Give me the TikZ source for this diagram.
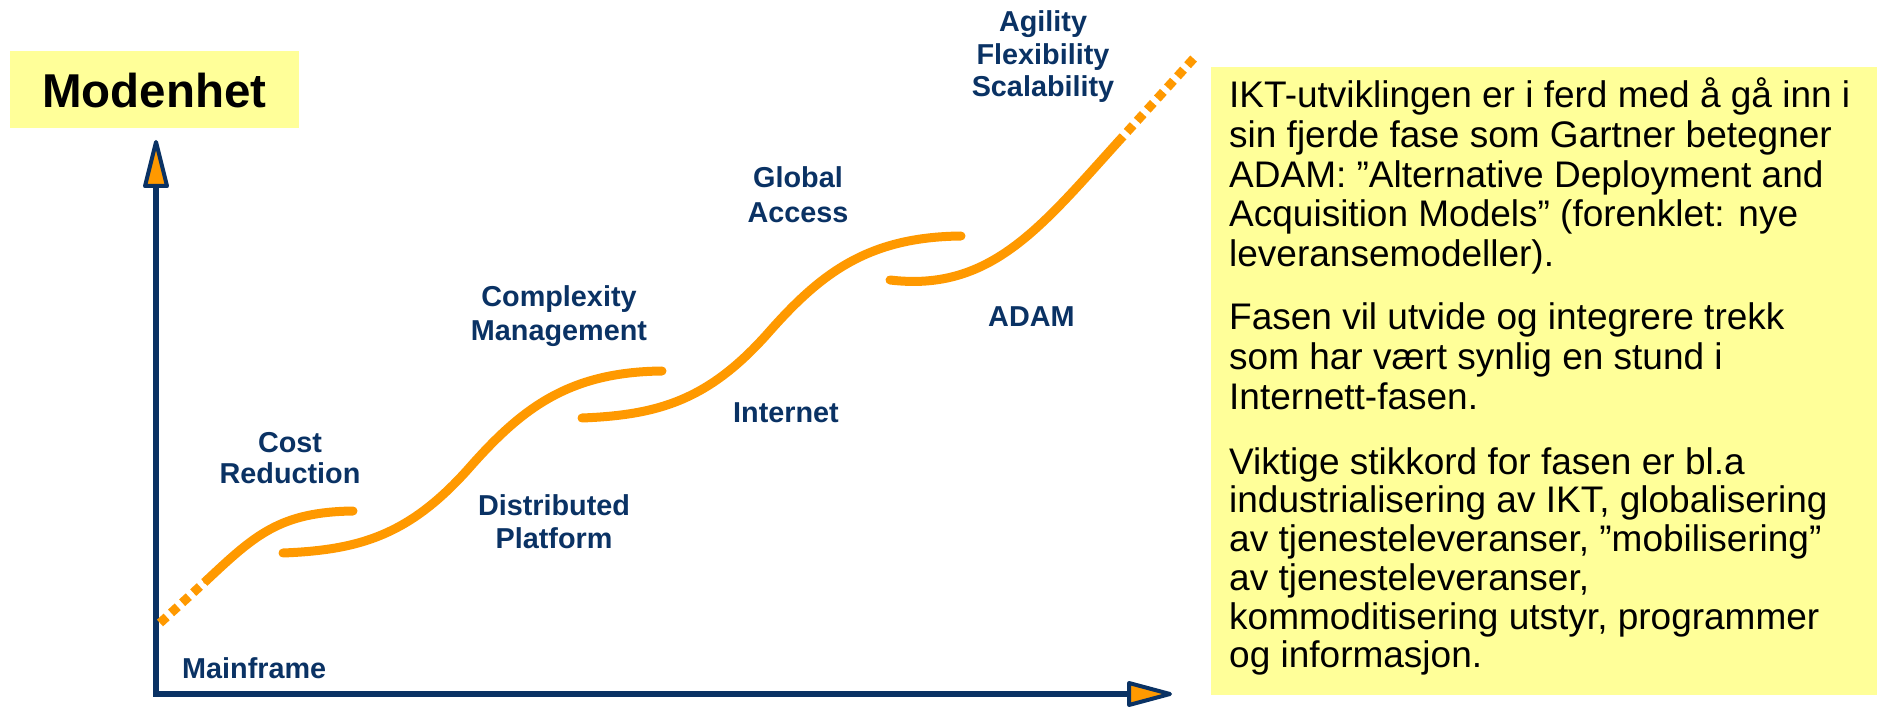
\documentclass[tikz,border=0pt]{standalone}
\usepackage{fontspec}
\setmainfont{Liberation Sans}
\definecolor{navy}{RGB}{10,50,100}
\definecolor{orng}{RGB}{255,153,0}
\definecolor{paleyellow}{RGB}{255,255,153}
\newcommand{\clines}[2]{\vtop{\baselineskip=#1\halign{\hfil##\hfil\cr#2\crcr}}}
\newcommand{\llines}[2]{\vtop{\baselineskip=#1\halign{##\hfil\cr#2\crcr}}}
\tikzset{
  lbl/.style={font=\fontsize{28.8}{34}\selectfont\bfseries, text=navy, inner sep=0pt, anchor=base},
  body/.style={font=\fontsize{37}{39.5}\selectfont, text=black, inner sep=0pt, anchor=base west},
  axisline/.style={draw=navy, line width=6pt, line join=miter},
  tiphead/.style={draw=navy, fill=orng, line width=4pt, line join=round},
  wave/.style={draw=orng, line width=9pt, line cap=round},
  dotline/.style={draw=orng, line width=9pt, line cap=butt, dash pattern=on 9pt off 6pt},
}
\begin{document}
\begin{tikzpicture}[x=1pt,y=-1pt]
\useasboundingbox (0,0) rectangle (1877,708);
% title box
\node[fill=paleyellow, inner sep=0pt, minimum width=289pt, minimum height=77pt] (modbox) at (154.5,89.5) {};
\node[anchor=base, inner sep=0pt, font=\fontsize{47.5}{56}\selectfont\bfseries] (modtxt) at (154.5,108) {Modenhet};
% text box
\node[fill=paleyellow, inner sep=0pt, minimum width=666pt, minimum height=628pt] (txtbox) at (1544,381) {};
\node[body] (p1) at (1229,108) {\llines{39.6pt}{IKT-utviklingen er i ferd med å gå inn i\cr
sin fjerde fase som Gartner betegner\cr
ADAM: ”Alternative Deployment and\cr
Acquisition Models” (forenklet: nye\cr
leveransemodeller).}};
\node[body] (p2) at (1229,330) {\llines{39.6pt}{Fasen vil utvide og integrere trekk\cr
som har vært synlig en stund i\cr
Internett-fasen.}};
\node[body] (p3) at (1229,474) {\llines{38.8pt}{Viktige stikkord for fasen er bl.a\cr
industrialisering av IKT, globalisering\cr
av tjenesteleveranser, ”mobilisering”\cr
av tjenesteleveranser,\cr
kommoditisering utstyr, programmer\cr
og informasjon.}};
% axes
\coordinate (ytop) at (156,186);
\coordinate (O) at (156,694);
\coordinate (xend) at (1129,694);
\draw[axisline] (ytop) -- (O) -- (xend);
\draw[tiphead] (156,142) -- (145,186) -- (167,186) -- cycle;
\draw[tiphead] (1170,694) -- (1129,683) -- (1129,705) -- cycle;
% curves
\draw[dotline] (160,623) -- (207,580);
\draw[wave] (207,580) .. controls (255,535) and (280,512) .. (353,511);
\draw[wave] (283,553) .. controls (360,550) and (410,535) .. (470,467) .. controls (523,407) and (570,372) .. (662,371);
\draw[wave] (582,418) .. controls (659,415) and (709,400) .. (769,332) .. controls (822,272) and (869,237) .. (961,236);
\draw[wave] (890,280) .. controls (990,292) and (1040,228) .. (1117,143);
\draw[dotline] (1117,143) -- (1195,57);
% labels
\node[lbl] (cost) at (290,452) {\clines{32pt}{Cost\cr Reduction}};
\node[lbl, anchor=base west] (mainf) at (182,678) {Mainframe};
\node[lbl] (distr) at (554,515) {\clines{33pt}{Distributed\cr Platform}};
\node[lbl] (compl) at (559,307) {\clines{34pt}{Complexity\cr Management}};
\node[lbl] (inet) at (786,422) {Internet};
\node[lbl] (glob) at (798,188) {\clines{35pt}{Global\cr Access}};
\node[lbl, anchor=base west] (adam) at (988,327) {ADAM};
\node[lbl] (agil) at (1043,32) {\clines{32.5pt}{Agility\cr Flexibility\cr Scalability}};
\end{tikzpicture}
\end{document}
